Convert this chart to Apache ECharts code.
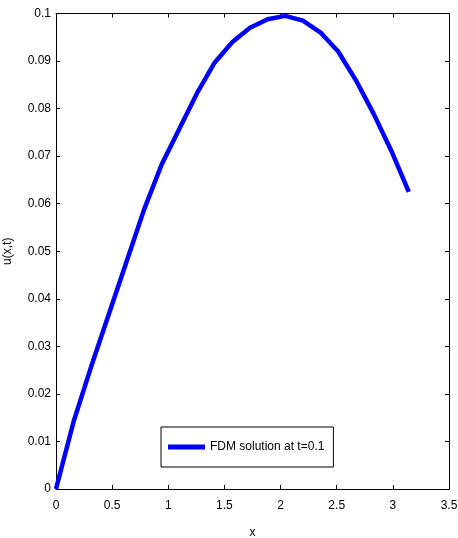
<!DOCTYPE html>
<html>
<head>
<meta charset="utf-8">
<script src="https://cdn.jsdelivr.net/npm/echarts@6/dist/echarts.min.js"></script>
<style>
html,body{margin:0;padding:0;background:#fff;}
#c{width:458px;height:538px;}
</style>
</head>
<body>
<div id="c"></div>
<script>
var xValues = [0, 0.157, 0.314, 0.471, 0.628, 0.785, 0.942, 1.100, 1.257, 1.414, 1.571, 1.728, 1.885, 2.042, 2.199, 2.356, 2.513, 2.670, 2.827, 2.985, 3.142];
var uValues = [0, 0.0142, 0.0258, 0.0368, 0.0478, 0.0588, 0.0683, 0.0758, 0.0833, 0.0897, 0.0940, 0.0970, 0.0988, 0.0995, 0.0985, 0.0960, 0.0920, 0.0860, 0.0790, 0.0712, 0.0625];
var seriesName = 'FDM solution at t=0.1';
var xTicks = [0, 0.5, 1, 1.5, 2, 2.5, 3, 3.5];
var yTicks = [0, 0.01, 0.02, 0.03, 0.04, 0.05, 0.06, 0.07, 0.08, 0.09, 0.1];

var font = 'Liberation Sans, Arial, sans-serif';
var data = xValues.map(function (x, i) { return [x, uValues[i]]; });

var axisLine = { show: true, onZero: false, lineStyle: { color: '#000', width: 1 } };
var tick = { show: true, inside: true, length: 4, lineStyle: { color: '#000' } };

var chart = echarts.init(document.getElementById('c'));
chart.setOption({
  animation: false,
  backgroundColor: '#fff',
  grid: { left: 56, right: 9, top: 13.5, bottom: 49, containLabel: false, outerBoundsMode: 'none' },
  xAxis: [{
    type: 'value', min: xTicks[0], max: xTicks[xTicks.length - 1], interval: 0.5, position: 'bottom',
    axisLine: axisLine, axisTick: tick, splitLine: { show: false },
    axisLabel: { color: '#000', fontFamily: font, fontSize: 12, margin: 11,
      formatter: function (v) { return String(+v.toFixed(2)); } },
    name: 'x', nameLocation: 'middle', nameGap: 38,
    nameTextStyle: { color: '#000', fontFamily: font, fontSize: 12 }
  }, {
    type: 'value', min: xTicks[0], max: xTicks[xTicks.length - 1], interval: 0.5, position: 'top',
    axisLine: axisLine, axisTick: tick, splitLine: { show: false },
    axisLabel: { show: false }
  }],
  yAxis: [{
    type: 'value', min: yTicks[0], max: yTicks[yTicks.length - 1], interval: 0.01, position: 'left',
    axisLine: axisLine, axisTick: tick, splitLine: { show: false },
    axisLabel: { color: '#000', fontFamily: font, fontSize: 12, margin: 5,
      formatter: function (v) { return String(+v.toFixed(3)); } },
    name: 'u(x,t)', nameLocation: 'middle', nameGap: 42, nameRotate: 90,
    nameTextStyle: { color: '#000', fontFamily: font, fontSize: 12 }
  }, {
    type: 'value', min: yTicks[0], max: yTicks[yTicks.length - 1], interval: 0.01, position: 'right',
    axisLine: axisLine, axisTick: tick, splitLine: { show: false },
    axisLabel: { show: false }
  }],
  legend: {
    data: [{ name: seriesName, icon: 'rect' }],
    left: 161, top: 427,
    itemWidth: 37, itemHeight: 5, itemGap: 5,
    padding: [14, 9, 14, 7],
    borderColor: '#000', borderWidth: 1, borderRadius: 0,
    backgroundColor: '#fff',
    textStyle: { color: '#000', fontFamily: font, fontSize: 12, padding: [0, 0, 0, 0] }
  },
  series: [{
    name: seriesName, type: 'line', data: data, showSymbol: false, symbol: 'none',
    xAxisIndex: 0, yAxisIndex: 0,
    itemStyle: { color: '#0000ff' },
    lineStyle: { color: '#0000ff', width: 4.5 }
  }]
});
</script>
</body>
</html>
